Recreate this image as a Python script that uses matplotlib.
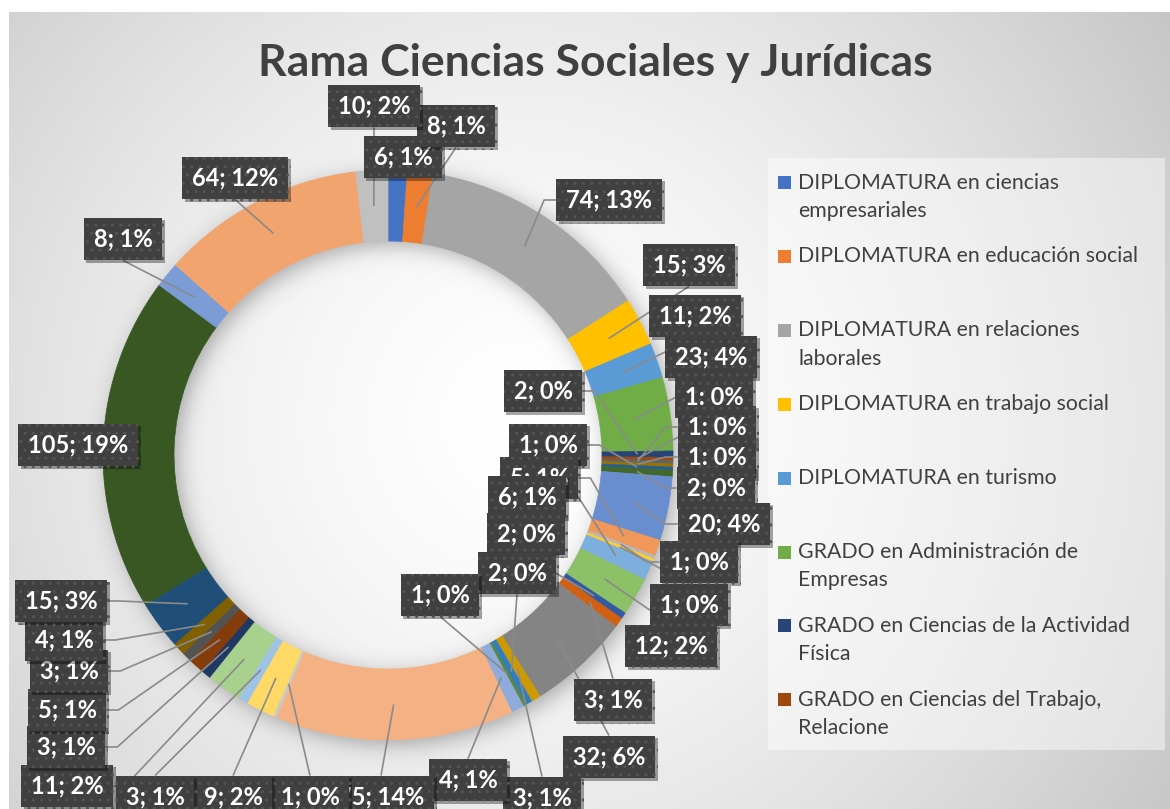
import colorsys
import math

import numpy as np
import matplotlib
matplotlib.use("Agg")
import matplotlib.pyplot as plt
import matplotlib.colors as mcolors
from matplotlib import patheffects
from matplotlib.patches import Rectangle

plt.rcParams['font.family'] = ['Lato', 'DejaVu Sans']

title = "Rama Ciencias Sociales y Jurídicas"

# only the first eight legend entries are visible in the source
legend_labels = [
    "DIPLOMATURA en ciencias\nempresariales",
    "DIPLOMATURA en educación social",
    "DIPLOMATURA en relaciones\nlaborales",
    "DIPLOMATURA en trabajo social",
    "DIPLOMATURA en turismo",
    "GRADO en Administración de\nEmpresas",
    "GRADO en Ciencias de la Actividad\nFísica",
    "GRADO en Ciencias del Trabajo,\nRelacione",
]

# slices, clockwise from 12 o'clock
values = [6, 8, 74, 15, 11, 23,
          2, 1, 1, 1, 1, 2,
          20, 5, 1, 1, 6, 12,
          2, 3, 32, 3, 2, 1,
          4, 75, 1, 9, 3, 11,
          3, 5, 3, 4, 15, 105,
          8, 64, 10]
colon_labels = [7, 8, 9]  # these data labels read "1: 0%" in the source

# data label box centres, pixels from the top-left corner (one per slice)
label_pos = [(403, 157), (456, 126), (609, 200), (689, 265), (695, 316), (711, 357),
             (543, 391), (714, 397), (717, 427), (717, 457), (548, 445), (716, 488),
             (724, 524), (539, 478), (699, 562), (689, 605), (527, 497), (671, 646),
             (526, 534), (613, 700), (609, 757), (542, 798), (517, 573), (440, 595),
             (468, 780), (381, 797), (310, 797), (233, 797), (155, 797), (67, 786),
             (66, 747), (67, 710), (69, 671), (64, 640), (61, 601), (78, 445),
             (123, 239), (235, 178), (374, 106)]

W, H = 1170, 809
cx, cy, R, r_in = 388, 455, 285, 214
r_mid = (R + r_in) / 2

# office theme accents and the lum variations excel cycles through
accents = ["#4472C4", "#ED7D31", "#A5A5A5", "#FFC000", "#5B9BD5", "#70AD47"]
variants = [(1.0, 0.0), (0.6, 0.0), (0.8, 0.2), (0.8, 0.0), (0.6, 0.4), (0.5, 0.0), (0.7, 0.3)]


def shade(c, mod, off):
    h, l, s = colorsys.rgb_to_hls(*mcolors.to_rgb(c))
    return colorsys.hls_to_rgb(h, min(1.0, l * mod + off), s)


colors = [shade(accents[i % 6], *variants[i // 6]) for i in range(len(values))]

fig = plt.figure(figsize=(W / 100, H / 100), dpi=100)
fig.patch.set_facecolor('white')
ax = fig.add_axes([0, 0, 1, 1])

# chart area: radial grey gradient
x0, y0 = 9, 12
gx, gy = np.meshgrid(np.arange(x0, W) + 0.5, np.arange(y0, H) + 0.5)
d = np.clip(np.hypot(gx - 520, gy - 420) / 760, 0, 1)
bg = 1 - 0.22 * d ** 1.5
ax.imshow(np.dstack([bg] * 3), extent=(x0, W, H, y0), origin='upper', zorder=0,
          interpolation='bilinear')

# soft shadow of the ring, offset down-right
gx, gy = np.meshgrid(np.arange(W) + 0.5, np.arange(H) + 0.5)
rho = np.hypot(gx - cx - 5, gy - cy - 5)
sig = 10.0
cdf = lambda z: 0.5 * (1 + np.tanh(0.8 * z))
shadow = np.zeros((H, W, 4))
shadow[..., 3] = 0.3 * (cdf((R - rho) / sig) - cdf((r_in - rho) / sig))
ax.imshow(shadow, extent=(0, W, H, 0), origin='upper', zorder=1)

wedges, _ = ax.pie(values, colors=colors, startangle=-90, counterclock=True,
                   radius=R, center=(cx, cy), frame=True,
                   wedgeprops=dict(width=R - r_in))
for w in wedges:
    w.set_edgecolor(w.get_facecolor())
    w.set_linewidth(0.5)
    w.set_zorder(2)

ax.text(595, 63, title, ha='center', va='center', fontsize=32, weight='bold',
        color='#404040', zorder=5)

# legend panel
ax.add_patch(Rectangle((768, 158), 397, 592, fc='white', alpha=0.45, lw=0, zorder=1))
for k, lab in enumerate(legend_labels):
    ytop = 182.5 + k * 73.9
    ax.add_patch(Rectangle((778, ytop - 6.5), 13, 13, fc=colors[k], lw=0, zorder=3))
    for j, line in enumerate(lab.split('\n')):
        ax.text(798, ytop + j * 28.5, line, ha='left', va='center', fontsize=15.3,
                color='#404040', zorder=3)

ax.set_xlim(0, W)
ax.set_ylim(H, 0)
ax.set_aspect('auto')
ax.axis('off')

# data labels
total = sum(values)
texts = []
for i, (v, (lx, ly)) in enumerate(zip(values, label_pos)):
    sep = ':' if i in colon_labels else ';'
    t = ax.text(lx, ly, f"{v}{sep} {round(100 * v / total)}%", ha='center', va='center',
                fontsize=17, weight='bold', color='white', zorder=10 + i * 0.01,
                bbox=dict(boxstyle='square,pad=0.42', fc='#404040', ec='#545454',
                          lw=0, hatch='..'))
    t.get_bbox_patch().set_path_effects([
        patheffects.SimplePatchShadow(offset=(2, -2), shadow_rgbFace='black', alpha=0.35),
        patheffects.Normal()])
    texts.append(t)

# leader lines from the middle of each slice to its label box
fig.canvas.draw()
inv = ax.transData.inverted()
for w, t in zip(wedges, texts):
    th = math.radians((w.theta1 + w.theta2) / 2)
    px, py = cx + r_mid * math.cos(th), cy + r_mid * math.sin(th)
    bb = t.get_bbox_patch().get_window_extent()
    (ax0, ay0), (ax1, ay1) = inv.transform([[bb.x0, bb.y0], [bb.x1, bb.y1]])
    bx0, bx1 = sorted((ax0, ax1))
    by0, by1 = sorted((ay0, ay1))
    bcx, bcy = (bx0 + bx1) / 2, (by0 + by1) / 2
    dx, dy = px - bcx, py - bcy
    if abs(dy) - (by1 - by0) / 2 > abs(dx) - (bx1 - bx0) / 2:
        ey = by1 if dy > 0 else by0
        pts = [(bcx, ey), (px, py)]
    else:
        ex = bx0 if dx < 0 else bx1
        elbow = ex - 12 if dx < 0 else ex + 12
        pts = [(ex, bcy), (elbow, bcy), (px, py)]
    if math.hypot(px - pts[0][0], py - pts[0][1]) < 30:
        continue
    xs, ys = zip(*pts)
    ax.plot(xs, ys, color='#8a8a8a', lw=1.2, zorder=4, solid_capstyle='butt')

fig.savefig('out.png', dpi=100)
